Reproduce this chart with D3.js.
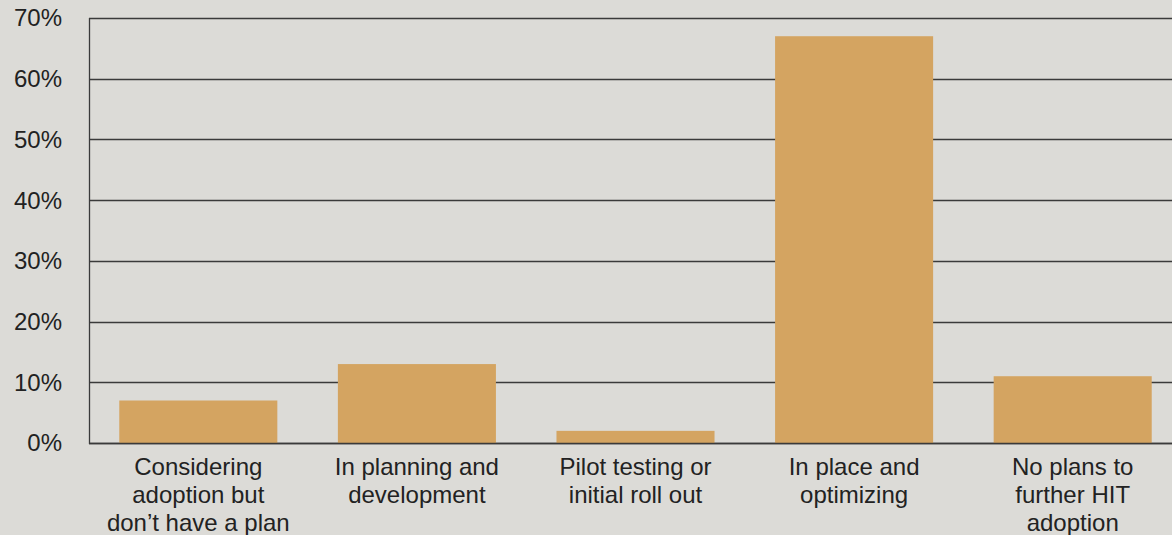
<!DOCTYPE html>
<html><head><meta charset="utf-8">
<script src="https://cdn.jsdelivr.net/npm/d3@7"></script>
<style>html,body{margin:0;padding:0;background:#dcdbd7;}svg{display:block;}</style>
</head><body><svg id="c" width="1172" height="535"></svg>
<script>
const categories = [
  ["Considering", "adoption but", "don\u2019t have a plan"],
  ["In planning and", "development"],
  ["Pilot testing or", "initial roll out"],
  ["In place and", "optimizing"],
  ["No plans to", "further HIT", "adoption"]
];
const values = [7, 13, 2, 67, 11];
const yTicks = [0, 10, 20, 30, 40, 50, 60, 70];

const W = 1172, H = 535;
const m = {left: 89, top: 18, bottom: 92};
const svg = d3.select("#c");
svg.append("rect").attr("width", W).attr("height", H).attr("fill", "#dcdbd7");

const x = d3.scaleBand().domain(d3.range(values.length))
  .range([m.left, 1182]).paddingInner(0.277).paddingOuter(0.1385);
const y = d3.scaleLinear().domain([0, 70]).range([H - m.bottom, m.top]);

const font = "Liberation Sans, Arial, sans-serif";

// gridlines
svg.append("g").selectAll("line").data(yTicks).join("line")
  .attr("x1", m.left).attr("x2", W)
  .attr("y1", d => Math.round(y(d)) + 0.5).attr("y2", d => Math.round(y(d)) + 0.5)
  .attr("stroke", "#3a3a3a").attr("stroke-width", 1.3);

// bars
svg.append("g").selectAll("rect").data(values).join("rect")
  .attr("x", (d, i) => x(i)).attr("width", x.bandwidth())
  .attr("y", d => y(d)).attr("height", d => y(0) - y(d))
  .attr("fill", "#d4a461");

// baseline & left axis
svg.append("line").attr("x1", m.left).attr("x2", W)
  .attr("y1", y(0) + 0.5).attr("y2", y(0) + 0.5).attr("stroke", "#3a3a3a").attr("stroke-width", 1.5);
svg.append("line").attr("x1", m.left + 0.5).attr("x2", m.left + 0.5)
  .attr("y1", y(70)).attr("y2", y(0) + 1).attr("stroke", "#3a3a3a").attr("stroke-width", 1.3);

// y labels
svg.append("g").selectAll("text").data(yTicks).join("text")
  .attr("x", 62).attr("y", d => y(d)).attr("dy", "0.35em")
  .attr("text-anchor", "end").attr("font-family", font).attr("font-size", 24)
  .attr("fill", "#222").text(d => d + "%");

// x labels
const xl = svg.append("g").selectAll("text").data(categories).join("text")
  .attr("text-anchor", "middle").attr("font-family", font).attr("font-size", 24)
  .attr("fill", "#222");
xl.each(function(lines, i) {
  d3.select(this).selectAll("tspan").data(lines).join("tspan")
    .attr("x", x(i) + x.bandwidth() / 2)
    .attr("y", (d, j) => y(0) + 32 + j * 28)
    .text(d => d);
});
</script></body></html>
